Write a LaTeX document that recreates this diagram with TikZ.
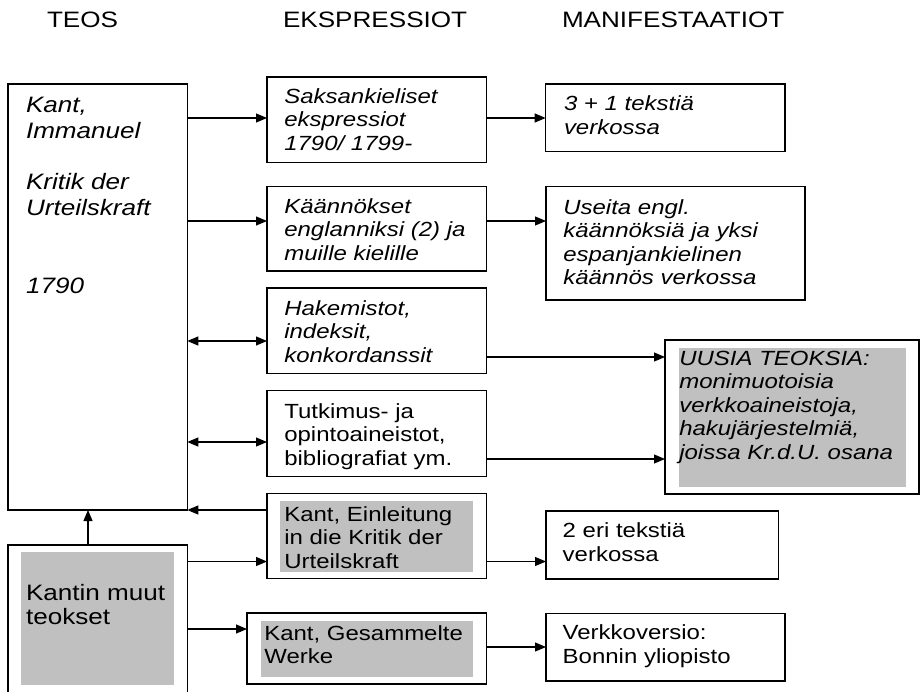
\documentclass[tikz,border=0pt]{standalone}
\usepackage{fontspec}
\setmainfont{Liberation Sans}[FakeStretch=1.17]
\usetikzlibrary{arrows.meta}
\definecolor{boxgray}{HTML}{C0C0C0}
\newcommand{\bodytxt}[1]{\parbox[t]{330pt}{\raggedright\fontsize{20.5pt}{23.5pt}\selectfont #1}}
\newcommand{\bigtxt}[2]{\parbox[t]{330pt}{\raggedright\fontsize{22.3pt}{#1}\selectfont #2}}
\tikzset{
  boxnode/.style={draw, line width=1.2pt, rectangle, anchor=north west, inner sep=0pt, outer sep=0pt},
  txt/.style={anchor=base west, inner sep=0pt, outer sep=0pt},
  arr/.style={line width=1.1pt, -{Triangle[length=11pt,width=9pt]}},
  dblarr/.style={line width=1.1pt, {Triangle[length=11pt,width=9pt]}-{Triangle[length=11pt,width=9pt]}}
}
\begin{document}
\begin{tikzpicture}[x=1pt,y=-1pt]
\useasboundingbox (0,0) rectangle (921,691);
\clip (0,0) rectangle (921,691);
% headers
\node[txt] (h1) at (47,27) {\fontsize{22.3pt}{25pt}\selectfont TEOS};
\node[txt] (h2) at (283,27) {\fontsize{22.3pt}{25pt}\selectfont EKSPRESSIOT};
\node[txt] (h3) at (562,27) {\fontsize{22.3pt}{25pt}\selectfont MANIFESTAATIOT};
% boxes
\node[boxnode, minimum width=179.3pt, minimum height=426pt] (teos) at (8,84) {};
\node[boxnode, minimum width=179.3pt, minimum height=150pt] (kantin) at (8,545) {};
\node[boxnode, minimum width=219.3pt, minimum height=85.3pt] (b1) at (267,77) {};
\node[boxnode, minimum width=219.3pt, minimum height=84.3pt] (b2) at (267,186.7) {};
\node[boxnode, minimum width=219.3pt, minimum height=85.3pt] (b3) at (267,288) {};
\node[boxnode, minimum width=219.3pt, minimum height=86pt] (b4) at (267,390.7) {};
\node[boxnode, minimum width=219.3pt, minimum height=85.4pt] (b5) at (267,493.3) {};
\node[boxnode, minimum width=239.3pt, minimum height=71pt] (b6) at (247,613) {};
\node[boxnode, minimum width=239.3pt, minimum height=67.7pt] (r1) at (545.7,84) {};
\node[boxnode, minimum width=259pt, minimum height=113.3pt] (r2) at (546,186.7) {};
\node[boxnode, minimum width=254pt, minimum height=154pt] (r3) at (665,340) {};
\node[boxnode, minimum width=232.3pt, minimum height=68pt] (r4) at (546,511) {};
\node[boxnode, minimum width=239pt, minimum height=67.7pt] (r5) at (546,613.3) {};
% gray fills
\fill[boxgray] (21,552) rectangle (174,685);
\fill[boxgray] (280,501) rectangle (473,572);
\fill[boxgray] (261,621) rectangle (473,677);
\fill[boxgray] (679,348) rectangle (906,487);
% texts
\node[txt] (tteos) at (26,112.5) {\bigtxt{25.8pt}{\itshape Kant,\\ Immanuel\\ \mbox{}\\ Kritik der\\ Urteilskraft\\ \mbox{}\\ \mbox{}\\ 1790}};
\node[txt] (tkantin) at (26,600) {\bigtxt{24pt}{Kantin muut\\ teokset}};
\node[txt] (tb1) at (284.3,103) {\bodytxt{\itshape Saksankieliset\\ ekspressiot\\ 1790/ 1799-}};
\node[txt] (tb2) at (284.3,213) {\bodytxt{\itshape K\"a\"ann\"okset\\ englanniksi (2) ja\\ muille kielille}};
\node[txt] (tb3) at (284.3,315) {\bodytxt{\itshape Hakemistot,\\ indeksit,\\ konkordanssit}};
\node[txt] (tb4) at (284.3,418) {\bodytxt{Tutkimus- ja\\ opintoaineistot,\\ bibliografiat ym.}};
\node[txt] (tb5) at (284.3,521) {\bodytxt{Kant, Einleitung\\ in die Kritik der\\ Urteilskraft}};
\node[txt] (tb6) at (264.3,640) {\bodytxt{Kant, Gesammelte\\ Werke}};
\node[txt] (tr1) at (564,110.5) {\bodytxt{\itshape 3 + 1 teksti\"a\\ verkossa}};
\node[txt] (tr2) at (563.3,214.3) {\bodytxt{\itshape Useita engl.\\ k\"a\"ann\"oksi\"a ja yksi\\ espanjankielinen\\ k\"a\"ann\"os verkossa}};
\node[txt] (tr3) at (679.3,365) {\bodytxt{\itshape UUSIA TEOKSIA:\\ monimuotoisia\\ verkkoaineistoja,\\ hakuj\"arjestelmi\"a,\\ joissa Kr.d.U. osana}};
\node[txt] (tr4) at (562.7,537.5) {\bodytxt{2 eri teksti\"a\\ verkossa}};
\node[txt] (tr5) at (562.7,639.5) {\bodytxt{Verkkoversio:\\ Bonnin yliopisto}};
% y levels
\coordinate (y118) at (0,118);
\coordinate (y221) at (0,221);
\coordinate (y341) at (0,341);
\coordinate (y357) at (0,357);
\coordinate (y442) at (0,442);
\coordinate (y459) at (0,459);
\coordinate (y510) at (0,510);
\coordinate (y561) at (0,561.5);
\coordinate (y629) at (0,629);
\coordinate (y647) at (0,647);
\coordinate (x88) at (88,0);
% connectors
\draw[arr] (teos.east |- y118) -- (b1.west |- y118);
\draw[arr] (teos.east |- y221) -- (b2.west |- y221);
\draw[dblarr] (teos.east |- y341) -- (b3.west |- y341);
\draw[dblarr] (teos.east |- y442) -- (b4.west |- y442);
\draw[arr] (b5.west |- y510) -- (teos.south east);
\draw[arr] (kantin.north -| x88) -- (teos.south -| x88);
\draw[arr] (kantin.east |- y561) -- (b5.west |- y561);
\draw[arr] (kantin.east |- y629) -- (b6.west |- y629);
\draw[arr] (b1.east |- y118) -- (r1.west |- y118);
\draw[arr] (b2.east |- y221) -- (r2.west |- y221);
\draw[arr] (b3.east |- y357) -- (r3.west |- y357);
\draw[arr] (b4.east |- y459) -- (r3.west |- y459);
\draw[arr] (b5.east |- y561) -- (r4.west |- y561);
\draw[arr] (b6.east |- y647) -- (r5.west |- y647);
\end{tikzpicture}
\end{document}
